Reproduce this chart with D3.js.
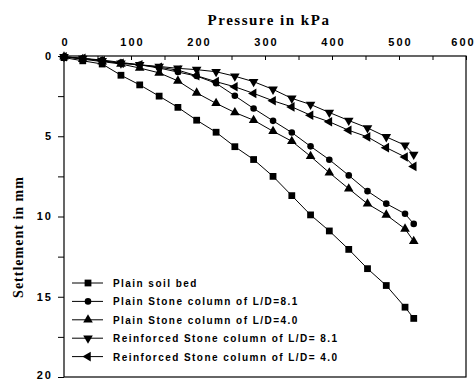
<!DOCTYPE html>
<html>
<head>
<meta charset="utf-8">
<script src="https://cdnjs.cloudflare.com/ajax/libs/d3/7.8.5/d3.min.js"></script>
<style>
  body { margin: 0; background: #fff; }
  svg { display: block; }
  .tick text { font-family: "Liberation Sans Narrow", "Arial Narrow", "Liberation Sans", sans-serif; font-weight: bold; }
</style>
</head>
<body>
<div id="grafico"></div>
<script>
// pressure steps (kPa)
const pressure = [0, 28, 57, 85, 113, 142, 170, 198, 227, 255, 283, 312, 340, 368, 396, 425, 453, 481, 509, 522];

// settlement (mm) per series
const plainSoil   = [0.1, 0.3, 0.5, 1.2, 1.8, 2.5, 3.2, 4.0, 4.75, 5.65, 6.45, 7.5, 8.7, 9.9, 10.9, 12.05, 13.25, 14.3, 15.65, 16.35];
const plainLD81   = [0.05, 0.15, 0.25, 0.4, 0.55, 0.75, 1.0, 1.25, 1.7, 2.48, 3.27, 4.04, 4.77, 5.63, 6.46, 7.44, 8.42, 9.2, 9.83, 10.46];
const plainLD40   = [0.05, 0.2, 0.35, 0.5, 0.75, 1.05, 1.55, 2.3, 2.95, 3.52, 4.0, 4.69, 5.31, 6.25, 7.27, 8.27, 9.21, 9.9, 10.77, 11.54];
const reinfLD81   = [0.05, 0.15, 0.3, 0.45, 0.55, 0.65, 0.77, 0.85, 0.98, 1.26, 1.6, 2.08, 2.64, 3.02, 3.52, 4.02, 4.48, 5.04, 5.56, 6.14];
const reinfLD40   = [0.05, 0.15, 0.3, 0.45, 0.55, 0.7, 0.88, 1.23, 1.6, 1.92, 2.33, 2.79, 3.17, 3.69, 4.1, 4.63, 5.04, 5.71, 6.29, 6.88];

const seriesNames = [
  "Plain soil bed",
  "Plain Stone column of L/D=8.1",
  "Plain Stone column of L/D=4.0",
  "Reinforced Stone column of L/D= 8.1",
  "Reinforced Stone column of L/D= 4.0"
];
const seriesValues = [plainSoil, plainLD81, plainLD40, reinfLD81, reinfLD40];

const xTicks = [0, 100, 200, 300, 400, 500, 600];
const yTicks = [0, 5, 10, 15, 20];

const margin = { top: 56, left: 64 };
const totalW = 476, totalH = 381;
const width = 402;
const height = 321;

const svgBase = d3.select('#grafico').append('svg')
  .attr('width', totalW)
  .attr('height', totalH);

const svg = svgBase.append('g')
  .attr('transform', `translate(${margin.left},${margin.top})`);

const x = d3.scaleLinear().domain([0, 600]).range([0, width]);
const y = d3.scaleLinear().domain([0, 20]).range([0, height]);

// top axis, ticks every 50 pointing inward
const xAxis = svg.append('g')
  .call(d3.axisTop(x)
    .tickValues(d3.range(0, 601, 50))
    .tickSize(-4)
    .tickPadding(10)
    .tickFormat(d => xTicks.includes(d) ? d : ''));
xAxis.select('.domain').remove();
xAxis.selectAll('text').style('font-size', '11px').style('letter-spacing', '2px')
  .attr('dx', d => d === 600 ? '-3px' : '1px');

// left axis, ticks every 2.5 pointing outward
const yAxis = svg.append('g')
  .call(d3.axisLeft(y)
    .tickValues(d3.range(0, 20.1, 2.5))
    .tickSize(6)
    .tickPadding(5)
    .tickFormat(d => yTicks.includes(d) ? d : ''));
yAxis.select('.domain').remove();
yAxis.selectAll('text').style('font-size', '11px').style('letter-spacing', '2px')
  .attr('dy', d => d === 20 ? '0.1em' : '0.3em');

// frame
svg.append('rect')
  .attr('x', 0).attr('y', 0)
  .attr('width', width).attr('height', height)
  .attr('fill', 'none')
  .attr('stroke', '#000')
  .attr('stroke-width', 1.2);

// titles
svgBase.append('text')
  .attr('x', 269).attr('y', 25)
  .attr('text-anchor', 'middle')
  .style('font-family', '"Liberation Serif", "DejaVu Serif", serif')
  .style('font-weight', 'bold')
  .style('font-size', '15px')
  .style('letter-spacing', '1.5px')
  .text('Pressure in kPa');

svgBase.append('text')
  .attr('transform', 'translate(23,237) rotate(-90)')
  .attr('text-anchor', 'middle')
  .style('font-family', '"Liberation Serif", "DejaVu Serif", serif')
  .style('font-weight', 'bold')
  .style('font-size', '14px')
  .style('letter-spacing', '1px')
  .text('Settlement in mm');

// markers
const symbols = [
  { type: d3.symbolSquare, size: 46, rot: 0 },
  { type: d3.symbolCircle, size: 34, rot: 0 },
  { type: d3.symbolTriangle, size: 40, rot: 0 },
  { type: d3.symbolTriangle, size: 40, rot: 180 },
  { type: d3.symbolTriangle, size: 40, rot: -90 }
];

const line = d3.line()
  .x((d, i) => x(pressure[i]))
  .y(d => y(d));

seriesValues.forEach((vals, s) => {
  svg.append('path')
    .datum(vals)
    .attr('d', line)
    .attr('fill', 'none')
    .attr('stroke', '#000')
    .attr('stroke-width', 1);

  svg.selectAll('.m' + s)
    .data(vals)
    .enter().append('path')
    .attr('class', 'm' + s)
    .attr('d', d3.symbol().type(symbols[s].type).size(symbols[s].size))
    .attr('transform', (d, i) => `translate(${x(pressure[i])},${y(d)}) rotate(${symbols[s].rot})`)
    .attr('fill', '#000');
});

// legend
const legend = svgBase.append('g');
seriesNames.forEach((name, s) => {
  const ly = 283 + s * 18.4;
  legend.append('line')
    .attr('x1', 72).attr('x2', 103)
    .attr('y1', ly).attr('y2', ly)
    .attr('stroke', '#000');
  legend.append('path')
    .attr('d', d3.symbol().type(symbols[s].type).size(symbols[s].size)())
    .attr('transform', `translate(88,${ly}) rotate(${symbols[s].rot})`)
    .attr('fill', '#000');
  legend.append('text')
    .attr('x', 113).attr('y', ly + 4)
    .style('font-family', '"Liberation Sans Narrow", "Arial Narrow", "Liberation Sans", sans-serif')
    .style('font-weight', 'bold')
    .style('font-size', '10px')
    .style('letter-spacing', '1.45px')
    .text(name);
});
</script>
</body>
</html>
